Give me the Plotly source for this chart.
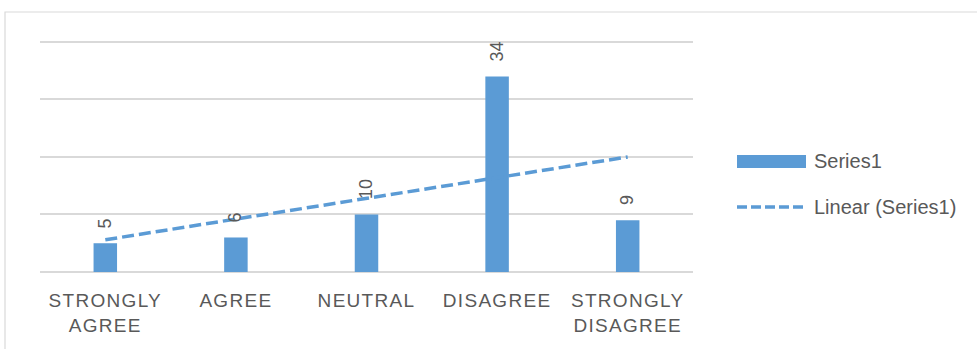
import numpy as np
import plotly.graph_objects as go

# Survey responses per answer category
categories = ["STRONGLY<br>AGREE", "AGREE", "NEUTRAL", "DISAGREE", "STRONGLY<br>DISAGREE"]
counts = [5, 6, 10, 34, 9]
series_name = "Series1"
trend_name = "Linear (Series1)"

BAR_BLUE = "#5B9BD5"
TEXT_GREY = "#595959"
GRID_GREY = "#D9D9D9"
FONT = "Liberation Sans, Arial, sans-serif"

# Least-squares linear trend over the category index
idx = np.arange(1, len(counts) + 1)
slope, intercept = np.polyfit(idx, counts, 1)
trend = slope * idx + intercept

fig = go.Figure()
fig.add_trace(go.Bar(
    x=categories, y=counts, name=series_name,
    marker=dict(color=BAR_BLUE, line=dict(width=0)),
    showlegend=False,
))
fig.add_trace(go.Scatter(
    x=categories, y=trend, name=trend_name, mode="lines",
    line=dict(color=BAR_BLUE, width=3.5, dash="12px,5px"),
    showlegend=False, hoverinfo="skip",
))

# Rotated value labels above each bar
for cat, val in zip(categories, counts):
    fig.add_annotation(
        x=cat, y=val, text=str(val), textangle=-90,
        xanchor="center", yanchor="bottom", yshift=13, showarrow=False,
        font=dict(family=FONT, size=18, color=TEXT_GREY),
    )

# Plot area spans y 39..272 px; legend placed in paper units of that area
PLOT_TOP, PLOT_BOTTOM, PLOT_LEFT, PLOT_W = 39, 272, 40, 653
PLOT_H = PLOT_BOTTOM - PLOT_TOP


def px(x):
    return (x - PLOT_LEFT) / PLOT_W


def py(y):
    return (PLOT_BOTTOM - y) / PLOT_H


# Hand-built legend to the right of the plot area
fig.add_shape(type="rect", xref="paper", yref="paper",
              x0=px(737), x1=px(806), y0=py(168), y1=py(155),
              fillcolor=BAR_BLUE, line=dict(width=0))
fig.add_shape(type="line", xref="paper", yref="paper",
              x0=px(737), x1=px(807), y0=py(207), y1=py(207),
              line=dict(color=BAR_BLUE, width=3.5, dash="10px,4px"))
for label, ypos in [(series_name, py(161)), (trend_name, py(207))]:
    fig.add_annotation(
        xref="paper", yref="paper", x=px(812), y=ypos, text=label,
        xanchor="left", yanchor="middle", showarrow=False,
        font=dict(family=FONT, size=20, color=TEXT_GREY),
    )

# Outer chart frame
fig.add_shape(type="rect", xref="paper", yref="paper",
              x0=px(5), x1=px(990), y0=py(360), y1=py(12),
              line=dict(color=GRID_GREY, width=1.2), fillcolor="rgba(0,0,0,0)",
              layer="below")

fig.update_layout(
    width=977, height=349,
    margin=dict(l=PLOT_LEFT, r=977 - PLOT_LEFT - PLOT_W, t=PLOT_TOP, b=349 - PLOT_BOTTOM),
    paper_bgcolor="white", plot_bgcolor="white",
    bargap=0.82,
    showlegend=False,
    font=dict(family=FONT, color=TEXT_GREY),
    xaxis=dict(
        type="category", showgrid=False, showline=False, zeroline=False,
        ticks="", tickfont=dict(family=FONT, size=19, color=TEXT_GREY),
        ticklabelstandoff=15,
    ),
    yaxis=dict(
        range=[0, 40.5], tickvals=[0, 10, 20, 30, 40], showticklabels=False,
        ticks="", showgrid=True, gridcolor=GRID_GREY, gridwidth=1.5,
        zeroline=True, zerolinecolor=GRID_GREY, zerolinewidth=1.5,
        showline=False,
    ),
)

# Spread out the category letters
spacing_js = (
    "document.querySelectorAll('.xtick text').forEach(function(t){"
    "t.setAttribute('letter-spacing','1.3px');});"
)
fig.write_html("out.html", post_script=spacing_js)
